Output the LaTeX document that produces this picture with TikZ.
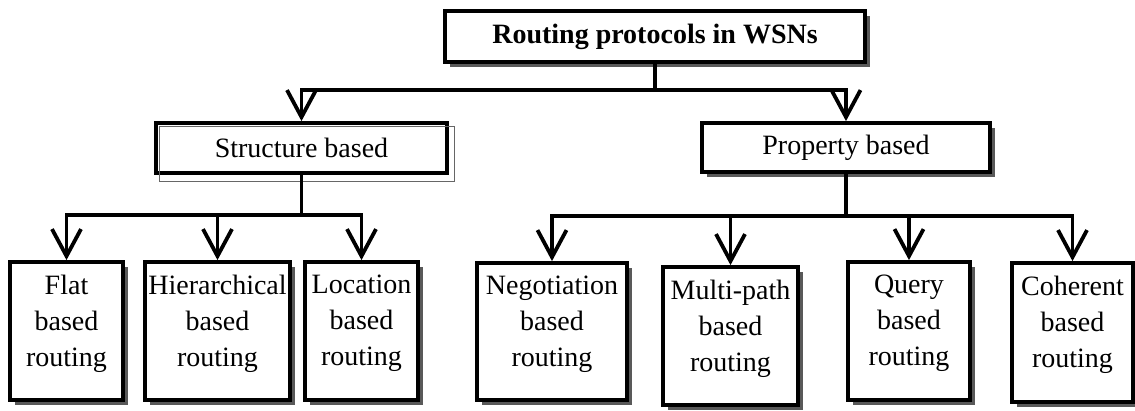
\documentclass[tikz,border=0pt]{standalone}
\usepackage{fontspec}
\setmainfont{Liberation Serif}
\usetikzlibrary{arrows.meta,shadows,calc}
\begin{document}
\begin{tikzpicture}[x=1pt,y=1pt,
  box/.style={draw=black,line width=3.8pt,fill=white,rectangle,inner sep=0pt,
    drop shadow={shadow xshift=5pt,shadow yshift=-5pt,fill=black!65,opacity=1}},
  plainbox/.style={draw=black,line width=3.8pt,fill=white,rectangle,inner sep=0pt},
  txt/.style={font=\fontsize{28}{36}\selectfont,align=center,inner sep=0pt},
  conn/.style={line width=3.8pt},
  arr/.style={line width=3.8pt,-{Straight Barb[length=27pt,width=29pt,line width=3.8pt]}}
]
\useasboundingbox (0,0) rectangle (1135,-410);
% top
\node[box,minimum width=420pt,minimum height=51pt,txt,font=\fontsize{28}{36}\selectfont\bfseries] (top) at (655,-36.5) {Routing protocols in WSNs};
% second level
\node[plainbox,minimum width=291pt,minimum height=50pt,txt] (struct) at (301.5,-148) {Structure based};
\draw[line width=1pt,black!60] ($(struct.north west)+(5,-5)$) rectangle ($(struct.south east)+(6,-7)$);
\node[box,minimum width=288pt,minimum height=49pt,txt] (prop) at (846,-147.5) {Property based};
% leaves
\node[box,minimum width=113pt,minimum height=138pt] (flat) at (66.5,-331) {};
\node[box,minimum width=145pt,minimum height=138pt] (hier) at (217.5,-331) {};
\node[box,minimum width=113pt,minimum height=138pt] (loc) at (361.5,-331) {};
\node[box,minimum width=150pt,minimum height=137pt] (neg) at (552,-331.5) {};
\node[box,minimum width=135pt,minimum height=138pt] (multi) at (730.5,-336) {};
\node[box,minimum width=122pt,minimum height=138pt] (query) at (909,-331) {};
\node[box,minimum width=121pt,minimum height=139pt] (coh) at (1072.5,-332.5) {};
\node[txt,anchor=north] (flatt) at ($(flat.north)+(0,-15)$) {Flat\\based\\routing};
\node[txt,anchor=north] (hiert) at ($(hier.north)+(0,-15)$) {Hierarchical\\based\\routing};
\node[txt,anchor=north] (loct) at ($(loc.north)+(0,-15)$) {Location\\based\\routing};
\node[txt,anchor=north] (negt) at ($(neg.north)+(0,-15)$) {Negotiation\\based\\routing};
\node[txt,anchor=north] (multit) at ($(multi.north)+(0,-15)$) {Multi-path\\based\\routing};
\node[txt,anchor=north] (queryt) at ($(query.north)+(0,-15)$) {Query\\based\\routing};
\node[txt,anchor=north] (coht) at ($(coh.north)+(0,-15)$) {Coherent\\based\\routing};
% connectors
\coordinate (j1) at (655,-90);
\draw[conn] (top.south) -- (j1);
\draw[arr] (j1) -| (struct.north);
\draw[arr] (j1) -| (prop.north);
\coordinate (j2) at (301.5,-215);
\draw[conn] (struct.south) -- (j2);
\draw[arr] (j2) -| (flat.north);
\draw[arr] (j2) -| (hier.north);
\draw[arr] (j2) -| (loc.north);
\coordinate (j3) at (846,-216);
\draw[conn] (prop.south) -- (j3);
\draw[arr] (j3) -| (neg.north);
\draw[arr] (j3) -| (multi.north);
\draw[arr] (j3) -| (query.north);
\draw[arr] (j3) -| (coh.north);
\end{tikzpicture}
\end{document}
